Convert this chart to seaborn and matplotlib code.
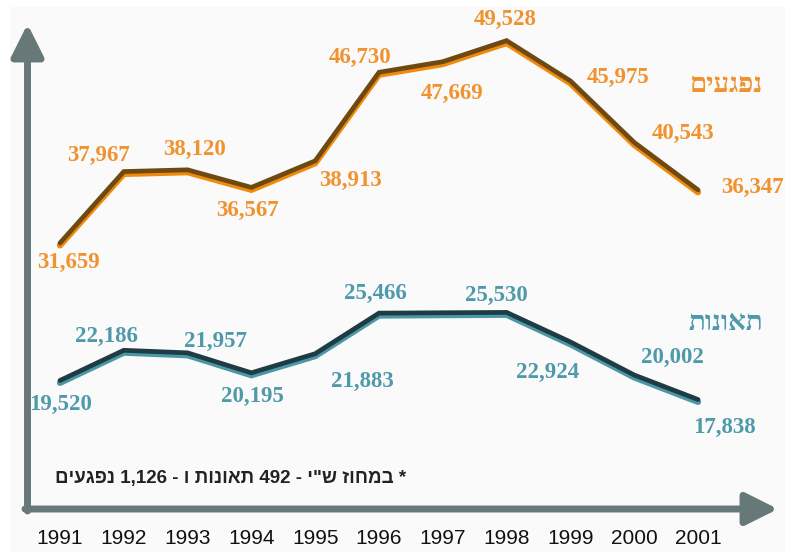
import re
import matplotlib
matplotlib.use('Agg')
import matplotlib.pyplot as plt
import matplotlib.patheffects as pe
import seaborn as sns

years = [1991, 1992, 1993, 1994, 1995, 1996, 1997, 1998, 1999, 2000, 2001]
injured = [31659, 37967, 38120, 36567, 38913, 46730, 47669, 49528, 45975, 40543, 36347]
accidents = [19520, 22186, 21957, 20195, 21883, 25466, 25500, 25530, 22924, 20002, 17838]
accidents_labeled = [True, True, True, True, True, True, False, True, True, True, True]

injured_name = 'נפגעים'
accidents_name = 'תאונות'
footnote = '* במחוז ש"י - 492 תאונות ו - 1,126 נפגעים'

# label offsets (pixels) from each point
injured_off = [(8, -17), (-25, 18), (7, 23), (-4, -21), (35, -17), (-19, 17),
               (9, -29), (-1, 24), (48, 6), (49, 11), (54, 5)]
accidents_off = [(1, -22), (-17, 16), (28, 14), (1, -21), (47, -25), (-4, 22),
                 (0, 0), (-10, 19), (-23, -28), (38, 20), (26, -26)]

ORANGE, ORANGE_DK, ORANGE_TXT = '#f08a0c', '#6e4a12', '#f0922e'
TEAL, TEAL_DK, TEAL_TXT = '#4a97a6', '#1f3c44', '#4f9aaa'
AXIS = '#677878'


def visual(s):
    # matplotlib has no bidi support: reverse, but keep numbers readable
    return re.sub(r'[\d,]+', lambda m: m.group()[::-1], s[::-1])


sns.set_style('white')
W, H = 795, 557
fig = plt.figure(figsize=(W / 100, H / 100), dpi=100, facecolor='white')
ax = fig.add_axes([10 / W, 5 / H, 775 / W, 545 / H])
ax.set_facecolor('#fafafa')
for s in ax.spines.values():
    s.set_visible(False)

# pixel mapping: 1991 -> x=60, 63.8 px/yr ; 49528 -> y=43, 88.3 per px
ax.set_xlim(1991 - 50 / 63.8, 1991 + 725 / 63.8)
ax.set_ylim(49528 - 509 * 88.3, 49528 + 36 * 88.3)
ax.set_xticks([])
ax.set_yticks([])

for vals, col, dk in [(injured, ORANGE, ORANGE_DK), (accidents, TEAL, TEAL_DK)]:
    sns.lineplot(x=years, y=vals, ax=ax, color=col, lw=4.5, solid_joinstyle='miter',
                 path_effects=[pe.Normal(),
                               pe.Stroke(linewidth=3.4, foreground=dk, offset=(0, 1.7))])

lab_font = dict(family='Liberation Serif', weight='bold', fontsize=16.5)
for x, v, (dx, dy) in zip(years, injured, injured_off):
    ax.annotate(f'{v:,}', (x, v), xytext=(dx, dy), textcoords='offset pixels',
                ha='center', va='center', color=ORANGE_TXT, **lab_font)
for x, v, (dx, dy), show in zip(years, accidents, accidents_off, accidents_labeled):
    if show:
        ax.annotate(f'{v:,}', (x, v), xytext=(dx, dy), textcoords='offset pixels',
                    ha='center', va='center', color=TEAL_TXT, **lab_font)

# axes arrows
def px(x, y):
    return (x, H - y)

arrow = dict(arrowstyle='-|>,head_length=1.4,head_width=0.7', lw=5, color=AXIS,
             shrinkA=0, shrinkB=0, mutation_scale=14)
ax.annotate('', xy=px(27.5, 24), xytext=px(27.5, 511), xycoords='figure pixels',
            textcoords='figure pixels', arrowprops=arrow)
ax.annotate('', xy=px(778, 509), xytext=px(25, 509), xycoords='figure pixels',
            textcoords='figure pixels', arrowprops=arrow)

for x in years:
    ax.text(x, (552 - 538) / 545, str(x), transform=ax.get_xaxis_transform(),
            ha='center', va='center', fontsize=15, color='#111111',
            family='Liberation Sans')

fig.text(763 / W, 1 - 85 / H, visual(injured_name), ha='right', va='center',
         color=ORANGE_TXT, fontsize=20, weight='bold', family=['Liberation Serif', 'DejaVu Serif'])
fig.text(763 / W, 1 - 323 / H, visual(accidents_name), ha='right', va='center',
         color=TEAL_TXT, fontsize=20, weight='bold', family=['Liberation Serif', 'DejaVu Serif'])
fig.text(406 / W, 1 - 479 / H, visual(footnote), ha='right', va='center',
         color='#222222', fontsize=13.5, weight='bold', family=['Liberation Sans', 'DejaVu Sans'])

fig.savefig('out.png', dpi=100, facecolor='white')
